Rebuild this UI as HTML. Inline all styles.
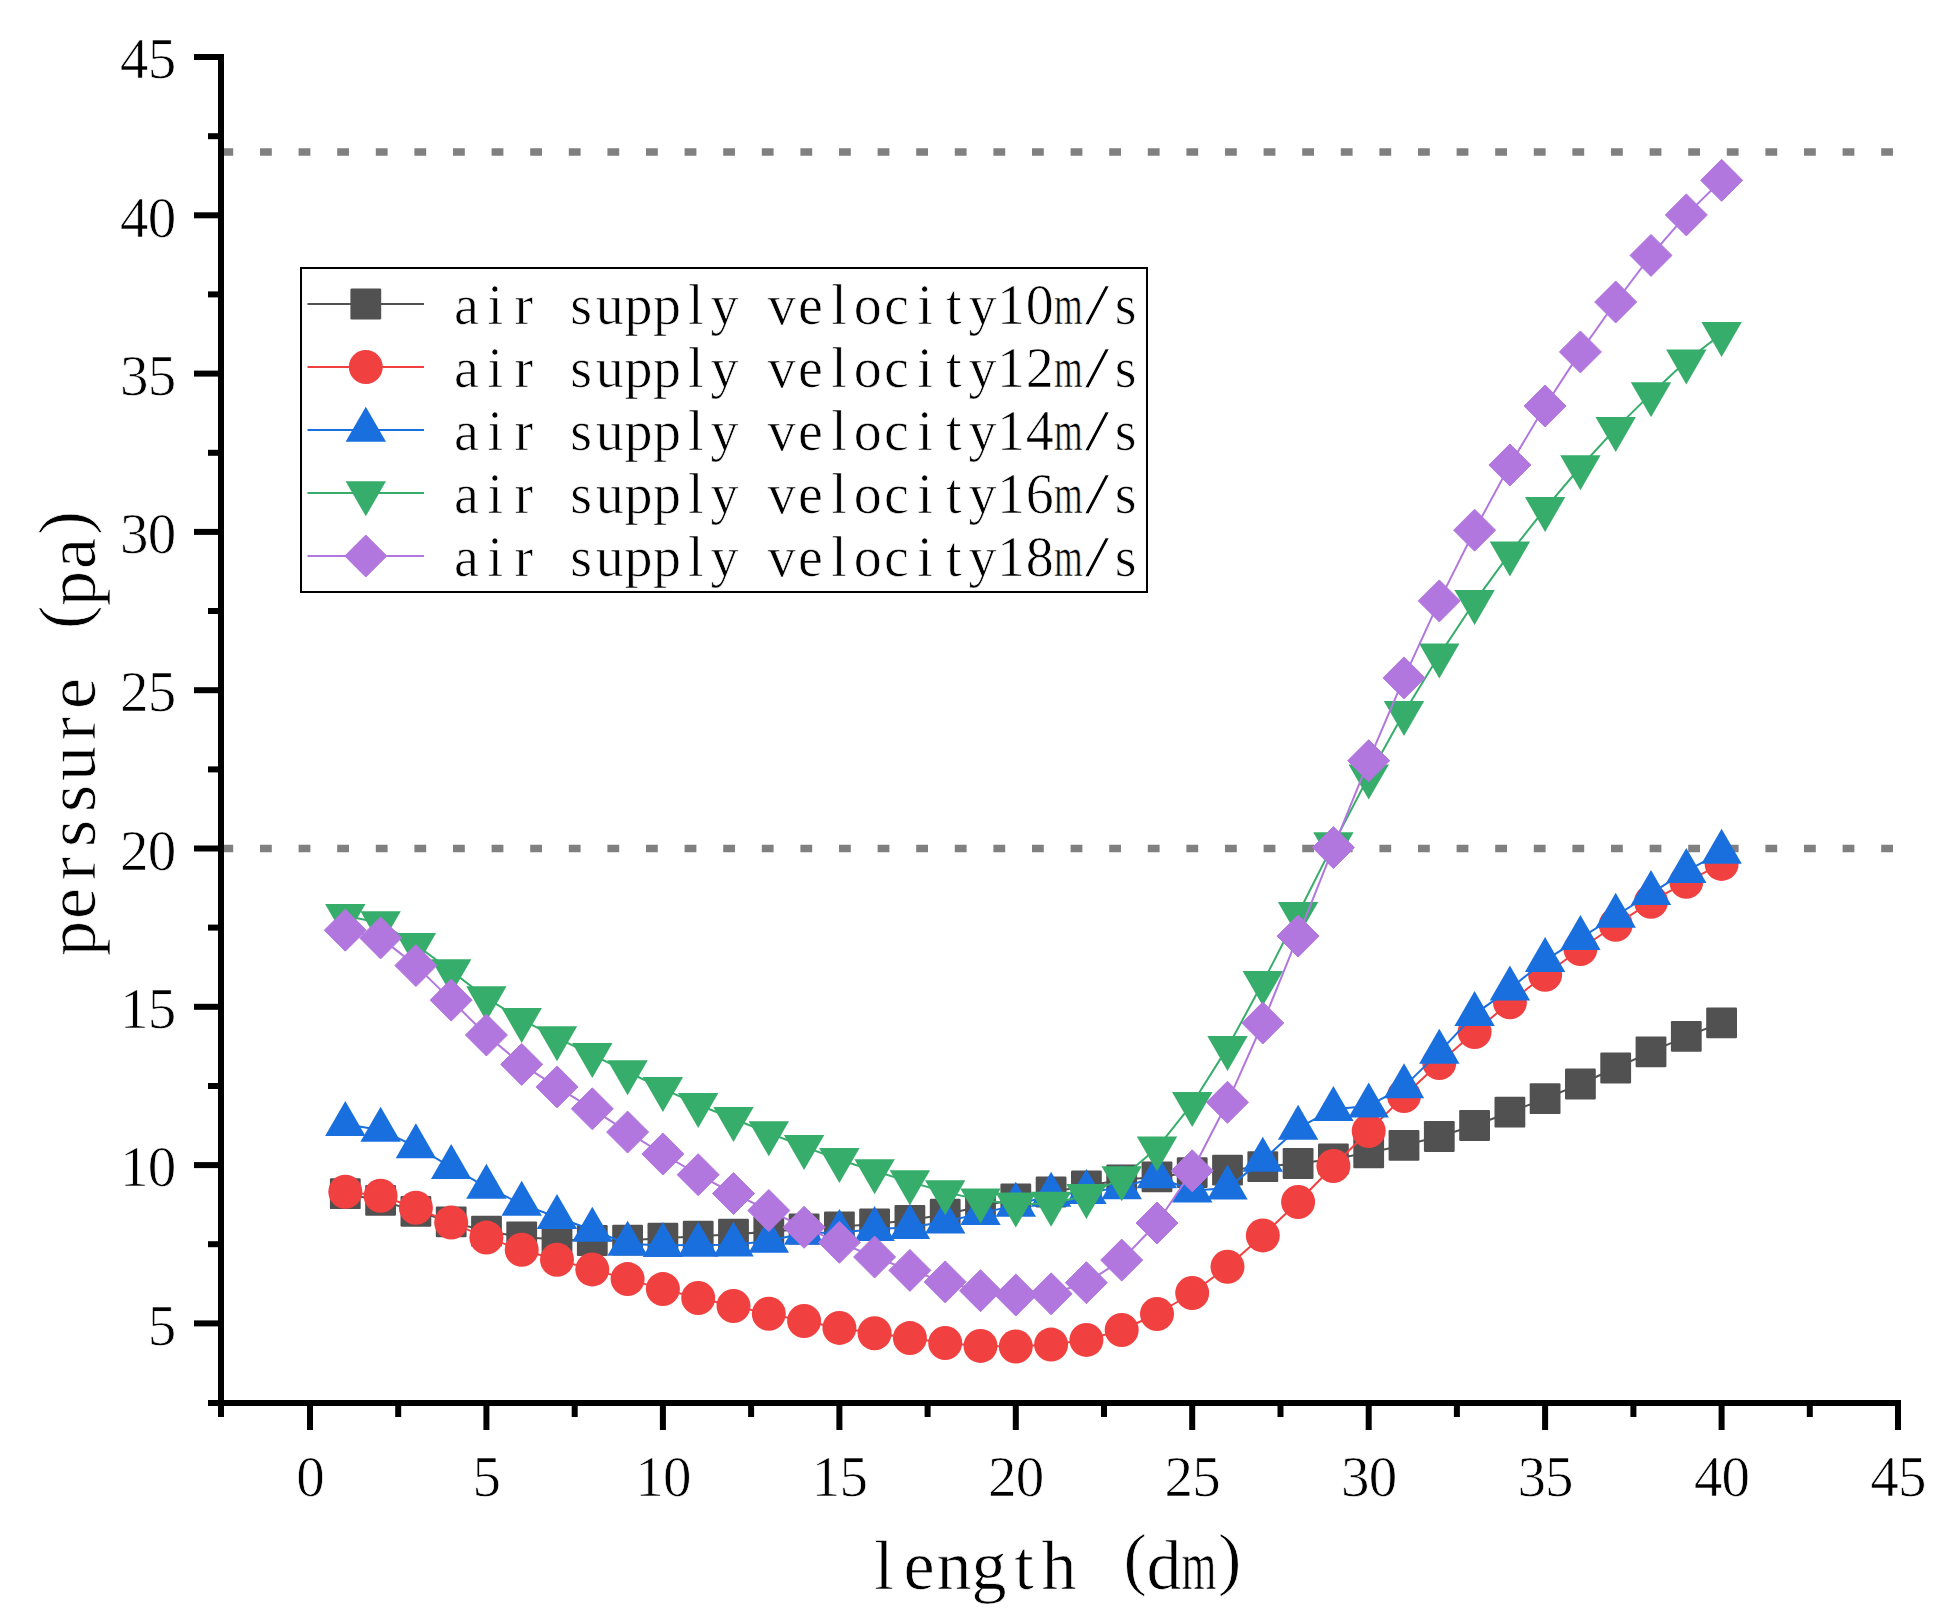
<!DOCTYPE html>
<html lang="en"><head><meta charset="utf-8"><title>pressure vs length</title>
<style>
html,body{margin:0;padding:0;background:#fff;}
body{width:1960px;height:1624px;overflow:hidden;}
svg{display:block;}
text{font-family:"Liberation Serif","Noto Serif CJK SC",serif;fill:#000;stroke:#fff;stroke-width:0.7px;paint-order:fill stroke;}
</style></head><body>
<svg width="1960" height="1624" viewBox="0 0 1960 1624">
<rect width="1960" height="1624" fill="#fff"/>
<line x1="221.4" y1="152" x2="1899" y2="152" stroke="#808080" stroke-width="7.6" stroke-dasharray="11.8 26.8"/>
<line x1="221.4" y1="848.5" x2="1899" y2="848.5" stroke="#808080" stroke-width="7.6" stroke-dasharray="11.8 26.8"/>
<polyline points="345.3,1193.7 380.6,1200.4 415.9,1211.3 451.2,1221.9 486.4,1231.2 521.7,1236.9 557,1239.5 592.3,1240.5 627.6,1240.2 662.9,1238.2 698.2,1236.2 733.5,1234.2 768.8,1231.8 804.1,1229 839.4,1226.8 874.6,1224 909.9,1220.3 945.2,1214.2 980.5,1206.5 1015.8,1199 1051.1,1192 1086.4,1186 1121.7,1179.8 1157,1176.9 1192.2,1172.6 1227.5,1170.1 1262.8,1166.7 1298.1,1163.5 1333.4,1159 1368.7,1152.8 1404,1145.3 1439.3,1136.5 1474.6,1125.5 1509.9,1112.2 1545.1,1098.7 1580.4,1084 1615.7,1068 1651,1051.8 1686.3,1036.4 1721.6,1022.8" fill="none" stroke="#515151" stroke-width="2" stroke-linejoin="round"/>
<g><rect x="329.9" y="1178.3" width="30.8" height="30.8" rx="1.2" fill="#515151"/><rect x="365.2" y="1185" width="30.8" height="30.8" rx="1.2" fill="#515151"/><rect x="400.5" y="1195.9" width="30.8" height="30.8" rx="1.2" fill="#515151"/><rect x="435.8" y="1206.5" width="30.8" height="30.8" rx="1.2" fill="#515151"/><rect x="471.1" y="1215.8" width="30.8" height="30.8" rx="1.2" fill="#515151"/><rect x="506.3" y="1221.5" width="30.8" height="30.8" rx="1.2" fill="#515151"/><rect x="541.6" y="1224.1" width="30.8" height="30.8" rx="1.2" fill="#515151"/><rect x="576.9" y="1225.1" width="30.8" height="30.8" rx="1.2" fill="#515151"/><rect x="612.2" y="1224.8" width="30.8" height="30.8" rx="1.2" fill="#515151"/><rect x="647.5" y="1222.8" width="30.8" height="30.8" rx="1.2" fill="#515151"/><rect x="682.8" y="1220.8" width="30.8" height="30.8" rx="1.2" fill="#515151"/><rect x="718.1" y="1218.8" width="30.8" height="30.8" rx="1.2" fill="#515151"/><rect x="753.4" y="1216.4" width="30.8" height="30.8" rx="1.2" fill="#515151"/><rect x="788.7" y="1213.6" width="30.8" height="30.8" rx="1.2" fill="#515151"/><rect x="824" y="1211.4" width="30.8" height="30.8" rx="1.2" fill="#515151"/><rect x="859.2" y="1208.6" width="30.8" height="30.8" rx="1.2" fill="#515151"/><rect x="894.5" y="1204.9" width="30.8" height="30.8" rx="1.2" fill="#515151"/><rect x="929.8" y="1198.8" width="30.8" height="30.8" rx="1.2" fill="#515151"/><rect x="965.1" y="1191.1" width="30.8" height="30.8" rx="1.2" fill="#515151"/><rect x="1000.4" y="1183.6" width="30.8" height="30.8" rx="1.2" fill="#515151"/><rect x="1035.7" y="1176.6" width="30.8" height="30.8" rx="1.2" fill="#515151"/><rect x="1071" y="1170.6" width="30.8" height="30.8" rx="1.2" fill="#515151"/><rect x="1106.3" y="1164.4" width="30.8" height="30.8" rx="1.2" fill="#515151"/><rect x="1141.6" y="1161.5" width="30.8" height="30.8" rx="1.2" fill="#515151"/><rect x="1176.8" y="1157.2" width="30.8" height="30.8" rx="1.2" fill="#515151"/><rect x="1212.1" y="1154.7" width="30.8" height="30.8" rx="1.2" fill="#515151"/><rect x="1247.4" y="1151.3" width="30.8" height="30.8" rx="1.2" fill="#515151"/><rect x="1282.7" y="1148.1" width="30.8" height="30.8" rx="1.2" fill="#515151"/><rect x="1318" y="1143.6" width="30.8" height="30.8" rx="1.2" fill="#515151"/><rect x="1353.3" y="1137.4" width="30.8" height="30.8" rx="1.2" fill="#515151"/><rect x="1388.6" y="1129.9" width="30.8" height="30.8" rx="1.2" fill="#515151"/><rect x="1423.9" y="1121.1" width="30.8" height="30.8" rx="1.2" fill="#515151"/><rect x="1459.2" y="1110.1" width="30.8" height="30.8" rx="1.2" fill="#515151"/><rect x="1494.5" y="1096.8" width="30.8" height="30.8" rx="1.2" fill="#515151"/><rect x="1529.7" y="1083.3" width="30.8" height="30.8" rx="1.2" fill="#515151"/><rect x="1565" y="1068.6" width="30.8" height="30.8" rx="1.2" fill="#515151"/><rect x="1600.3" y="1052.6" width="30.8" height="30.8" rx="1.2" fill="#515151"/><rect x="1635.6" y="1036.4" width="30.8" height="30.8" rx="1.2" fill="#515151"/><rect x="1670.9" y="1021" width="30.8" height="30.8" rx="1.2" fill="#515151"/><rect x="1706.2" y="1007.4" width="30.8" height="30.8" rx="1.2" fill="#515151"/></g>
<polyline points="345.3,1191.8 380.6,1195.8 415.9,1207.8 451.2,1222.6 486.4,1237.6 521.7,1249.7 557,1259.8 592.3,1269.4 627.6,1279.1 662.9,1289.1 698.2,1298 733.5,1306 768.8,1313.8 804.1,1321 839.4,1327.9 874.6,1333.2 909.9,1338.1 945.2,1343 980.5,1345.9 1015.8,1346.5 1051.1,1344.6 1086.4,1339.9 1121.7,1330 1157,1314 1192.2,1293 1227.5,1266.7 1262.8,1235.4 1298.1,1202 1333.4,1166 1368.7,1131 1404,1096.1 1439.3,1063 1474.6,1032 1509.9,1002.2 1545.1,974.8 1580.4,949 1615.7,924.8 1651,901.8 1686.3,881.8 1721.6,863.9" fill="none" stroke="#F14040" stroke-width="2" stroke-linejoin="round"/>
<g><circle cx="345.3" cy="1191.8" r="17" fill="#F14040"/><circle cx="380.6" cy="1195.8" r="17" fill="#F14040"/><circle cx="415.9" cy="1207.8" r="17" fill="#F14040"/><circle cx="451.2" cy="1222.6" r="17" fill="#F14040"/><circle cx="486.4" cy="1237.6" r="17" fill="#F14040"/><circle cx="521.7" cy="1249.7" r="17" fill="#F14040"/><circle cx="557" cy="1259.8" r="17" fill="#F14040"/><circle cx="592.3" cy="1269.4" r="17" fill="#F14040"/><circle cx="627.6" cy="1279.1" r="17" fill="#F14040"/><circle cx="662.9" cy="1289.1" r="17" fill="#F14040"/><circle cx="698.2" cy="1298" r="17" fill="#F14040"/><circle cx="733.5" cy="1306" r="17" fill="#F14040"/><circle cx="768.8" cy="1313.8" r="17" fill="#F14040"/><circle cx="804.1" cy="1321" r="17" fill="#F14040"/><circle cx="839.4" cy="1327.9" r="17" fill="#F14040"/><circle cx="874.6" cy="1333.2" r="17" fill="#F14040"/><circle cx="909.9" cy="1338.1" r="17" fill="#F14040"/><circle cx="945.2" cy="1343" r="17" fill="#F14040"/><circle cx="980.5" cy="1345.9" r="17" fill="#F14040"/><circle cx="1015.8" cy="1346.5" r="17" fill="#F14040"/><circle cx="1051.1" cy="1344.6" r="17" fill="#F14040"/><circle cx="1086.4" cy="1339.9" r="17" fill="#F14040"/><circle cx="1121.7" cy="1330" r="17" fill="#F14040"/><circle cx="1157" cy="1314" r="17" fill="#F14040"/><circle cx="1192.2" cy="1293" r="17" fill="#F14040"/><circle cx="1227.5" cy="1266.7" r="17" fill="#F14040"/><circle cx="1262.8" cy="1235.4" r="17" fill="#F14040"/><circle cx="1298.1" cy="1202" r="17" fill="#F14040"/><circle cx="1333.4" cy="1166" r="17" fill="#F14040"/><circle cx="1368.7" cy="1131" r="17" fill="#F14040"/><circle cx="1404" cy="1096.1" r="17" fill="#F14040"/><circle cx="1439.3" cy="1063" r="17" fill="#F14040"/><circle cx="1474.6" cy="1032" r="17" fill="#F14040"/><circle cx="1509.9" cy="1002.2" r="17" fill="#F14040"/><circle cx="1545.1" cy="974.8" r="17" fill="#F14040"/><circle cx="1580.4" cy="949" r="17" fill="#F14040"/><circle cx="1615.7" cy="924.8" r="17" fill="#F14040"/><circle cx="1651" cy="901.8" r="17" fill="#F14040"/><circle cx="1686.3" cy="881.8" r="17" fill="#F14040"/><circle cx="1721.6" cy="863.9" r="17" fill="#F14040"/></g>
<polyline points="345.3,1124.2 380.6,1130.1 415.9,1146.5 451.2,1167.2 486.4,1187.1 521.7,1204.1 557,1217.2 592.3,1230 627.6,1244 662.9,1245.2 698.2,1245 733.5,1244.7 768.8,1241 804.1,1233 839.4,1232.4 874.6,1229.3 909.9,1227.3 945.2,1221.7 980.5,1213.4 1015.8,1205.1 1051.1,1195 1086.4,1192.3 1121.7,1187.6 1157,1176.5 1192.2,1190.8 1227.5,1187.9 1262.8,1160.1 1298.1,1128.1 1333.4,1109.2 1368.7,1105.9 1404,1086.6 1439.3,1052.1 1474.6,1014.4 1509.9,988.9 1545.1,960.3 1580.4,938.2 1615.7,916 1651,893.3 1686.3,871.2 1721.6,852.1" fill="none" stroke="#1A6FDF" stroke-width="2" stroke-linejoin="round"/>
<g><polygon points="325.1,1135.9 365.5,1135.9 345.3,1100.9" fill="#1A6FDF"/><polygon points="360.4,1141.8 400.8,1141.8 380.6,1106.8" fill="#1A6FDF"/><polygon points="395.7,1158.2 436.1,1158.2 415.9,1123.2" fill="#1A6FDF"/><polygon points="431,1178.9 471.4,1178.9 451.2,1143.9" fill="#1A6FDF"/><polygon points="466.2,1198.8 506.6,1198.8 486.4,1163.8" fill="#1A6FDF"/><polygon points="501.5,1215.8 541.9,1215.8 521.7,1180.8" fill="#1A6FDF"/><polygon points="536.8,1228.9 577.2,1228.9 557,1193.9" fill="#1A6FDF"/><polygon points="572.1,1241.7 612.5,1241.7 592.3,1206.7" fill="#1A6FDF"/><polygon points="607.4,1255.7 647.8,1255.7 627.6,1220.7" fill="#1A6FDF"/><polygon points="642.7,1256.9 683.1,1256.9 662.9,1221.9" fill="#1A6FDF"/><polygon points="678,1256.7 718.4,1256.7 698.2,1221.7" fill="#1A6FDF"/><polygon points="713.3,1256.4 753.7,1256.4 733.5,1221.4" fill="#1A6FDF"/><polygon points="748.6,1252.7 789,1252.7 768.8,1217.7" fill="#1A6FDF"/><polygon points="783.9,1244.7 824.3,1244.7 804.1,1209.7" fill="#1A6FDF"/><polygon points="819.1,1244.1 859.6,1244.1 839.4,1209.1" fill="#1A6FDF"/><polygon points="854.4,1241 894.8,1241 874.6,1206" fill="#1A6FDF"/><polygon points="889.7,1239 930.1,1239 909.9,1204" fill="#1A6FDF"/><polygon points="925,1233.4 965.4,1233.4 945.2,1198.4" fill="#1A6FDF"/><polygon points="960.3,1225.1 1000.7,1225.1 980.5,1190.1" fill="#1A6FDF"/><polygon points="995.6,1216.8 1036,1216.8 1015.8,1181.8" fill="#1A6FDF"/><polygon points="1030.9,1206.7 1071.3,1206.7 1051.1,1171.7" fill="#1A6FDF"/><polygon points="1066.2,1204 1106.6,1204 1086.4,1169" fill="#1A6FDF"/><polygon points="1101.5,1199.3 1141.9,1199.3 1121.7,1164.3" fill="#1A6FDF"/><polygon points="1136.8,1188.2 1177.2,1188.2 1157,1153.2" fill="#1A6FDF"/><polygon points="1172,1202.5 1212.5,1202.5 1192.2,1167.5" fill="#1A6FDF"/><polygon points="1207.3,1199.6 1247.7,1199.6 1227.5,1164.6" fill="#1A6FDF"/><polygon points="1242.6,1171.8 1283,1171.8 1262.8,1136.8" fill="#1A6FDF"/><polygon points="1277.9,1139.8 1318.3,1139.8 1298.1,1104.8" fill="#1A6FDF"/><polygon points="1313.2,1120.9 1353.6,1120.9 1333.4,1085.9" fill="#1A6FDF"/><polygon points="1348.5,1117.6 1388.9,1117.6 1368.7,1082.6" fill="#1A6FDF"/><polygon points="1383.8,1098.3 1424.2,1098.3 1404,1063.3" fill="#1A6FDF"/><polygon points="1419.1,1063.8 1459.5,1063.8 1439.3,1028.8" fill="#1A6FDF"/><polygon points="1454.4,1026.1 1494.8,1026.1 1474.6,991.1" fill="#1A6FDF"/><polygon points="1489.7,1000.6 1530.1,1000.6 1509.9,965.6" fill="#1A6FDF"/><polygon points="1524.9,972 1565.3,972 1545.1,937" fill="#1A6FDF"/><polygon points="1560.2,949.9 1600.6,949.9 1580.4,914.9" fill="#1A6FDF"/><polygon points="1595.5,927.7 1635.9,927.7 1615.7,892.7" fill="#1A6FDF"/><polygon points="1630.8,905 1671.2,905 1651,870" fill="#1A6FDF"/><polygon points="1666.1,882.9 1706.5,882.9 1686.3,847.9" fill="#1A6FDF"/><polygon points="1701.4,863.8 1741.8,863.8 1721.6,828.8" fill="#1A6FDF"/></g>
<polyline points="345.3,915.7 380.6,922.9 415.9,944.8 451.2,970.9 486.4,998 521.7,1019.7 557,1037.9 592.3,1054.8 627.6,1072 662.9,1088.7 698.2,1104.8 733.5,1118.8 768.8,1133 804.1,1146.6 839.4,1159.8 874.6,1171 909.9,1181.9 945.2,1192 980.5,1200.1 1015.8,1204.2 1051.1,1203.5 1086.4,1195.8 1121.7,1177.9 1157,1148.1 1192.2,1103.8 1227.5,1047.6 1262.8,982.6 1298.1,913.8 1333.4,843.9 1368.7,776.3 1404,712.8 1439.3,655.1 1474.6,601.8 1509.9,553.1 1545.1,508.7 1580.4,467 1615.7,428.6 1651,393.9 1686.3,361.1 1721.6,333.7" fill="none" stroke="#37AD6B" stroke-width="2" stroke-linejoin="round"/>
<g><polygon points="325.1,904 365.5,904 345.3,939" fill="#37AD6B"/><polygon points="360.4,911.2 400.8,911.2 380.6,946.2" fill="#37AD6B"/><polygon points="395.7,933.1 436.1,933.1 415.9,968.1" fill="#37AD6B"/><polygon points="431,959.2 471.4,959.2 451.2,994.2" fill="#37AD6B"/><polygon points="466.2,986.3 506.6,986.3 486.4,1021.3" fill="#37AD6B"/><polygon points="501.5,1008 541.9,1008 521.7,1043" fill="#37AD6B"/><polygon points="536.8,1026.2 577.2,1026.2 557,1061.2" fill="#37AD6B"/><polygon points="572.1,1043.1 612.5,1043.1 592.3,1078.1" fill="#37AD6B"/><polygon points="607.4,1060.3 647.8,1060.3 627.6,1095.3" fill="#37AD6B"/><polygon points="642.7,1077 683.1,1077 662.9,1112" fill="#37AD6B"/><polygon points="678,1093.1 718.4,1093.1 698.2,1128.1" fill="#37AD6B"/><polygon points="713.3,1107.1 753.7,1107.1 733.5,1142.1" fill="#37AD6B"/><polygon points="748.6,1121.3 789,1121.3 768.8,1156.3" fill="#37AD6B"/><polygon points="783.9,1134.9 824.3,1134.9 804.1,1169.9" fill="#37AD6B"/><polygon points="819.1,1148.1 859.6,1148.1 839.4,1183.1" fill="#37AD6B"/><polygon points="854.4,1159.3 894.8,1159.3 874.6,1194.3" fill="#37AD6B"/><polygon points="889.7,1170.2 930.1,1170.2 909.9,1205.2" fill="#37AD6B"/><polygon points="925,1180.3 965.4,1180.3 945.2,1215.3" fill="#37AD6B"/><polygon points="960.3,1188.4 1000.7,1188.4 980.5,1223.4" fill="#37AD6B"/><polygon points="995.6,1192.5 1036,1192.5 1015.8,1227.5" fill="#37AD6B"/><polygon points="1030.9,1191.8 1071.3,1191.8 1051.1,1226.8" fill="#37AD6B"/><polygon points="1066.2,1184.1 1106.6,1184.1 1086.4,1219.1" fill="#37AD6B"/><polygon points="1101.5,1166.2 1141.9,1166.2 1121.7,1201.2" fill="#37AD6B"/><polygon points="1136.8,1136.4 1177.2,1136.4 1157,1171.4" fill="#37AD6B"/><polygon points="1172,1092.1 1212.5,1092.1 1192.2,1127.1" fill="#37AD6B"/><polygon points="1207.3,1035.9 1247.7,1035.9 1227.5,1070.9" fill="#37AD6B"/><polygon points="1242.6,970.9 1283,970.9 1262.8,1005.9" fill="#37AD6B"/><polygon points="1277.9,902.1 1318.3,902.1 1298.1,937.1" fill="#37AD6B"/><polygon points="1313.2,832.2 1353.6,832.2 1333.4,867.2" fill="#37AD6B"/><polygon points="1348.5,764.6 1388.9,764.6 1368.7,799.6" fill="#37AD6B"/><polygon points="1383.8,701.1 1424.2,701.1 1404,736.1" fill="#37AD6B"/><polygon points="1419.1,643.4 1459.5,643.4 1439.3,678.4" fill="#37AD6B"/><polygon points="1454.4,590.1 1494.8,590.1 1474.6,625.1" fill="#37AD6B"/><polygon points="1489.7,541.4 1530.1,541.4 1509.9,576.4" fill="#37AD6B"/><polygon points="1524.9,497 1565.3,497 1545.1,532" fill="#37AD6B"/><polygon points="1560.2,455.3 1600.6,455.3 1580.4,490.3" fill="#37AD6B"/><polygon points="1595.5,416.9 1635.9,416.9 1615.7,451.9" fill="#37AD6B"/><polygon points="1630.8,382.2 1671.2,382.2 1651,417.2" fill="#37AD6B"/><polygon points="1666.1,349.4 1706.5,349.4 1686.3,384.4" fill="#37AD6B"/><polygon points="1701.4,322 1741.8,322 1721.6,357" fill="#37AD6B"/></g>
<polyline points="345.3,930.2 380.6,937.9 415.9,965.6 451.2,1000.1 486.4,1035 521.7,1064.4 557,1086.9 592.3,1108.8 627.6,1132.1 662.9,1154 698.2,1174.7 733.5,1193.5 768.8,1210.5 804.1,1227.3 839.4,1242.3 874.6,1257 909.9,1270.4 945.2,1281.9 980.5,1290.7 1015.8,1295 1051.1,1293.8 1086.4,1282.7 1121.7,1260.1 1157,1223 1192.2,1170.8 1227.5,1102.3 1262.8,1023 1298.1,936.1 1333.4,847.6 1368.7,760.7 1404,677.9 1439.3,600.9 1474.6,530.2 1509.9,465 1545.1,406 1580.4,351.9 1615.7,302 1651,255.4 1686.3,214.9 1721.6,180.3" fill="none" stroke="#B177DE" stroke-width="2" stroke-linejoin="round"/>
<g><polygon points="324.3,930.2 345.3,909.2 366.3,930.2 345.3,951.2" fill="#B177DE" stroke="#B177DE" stroke-width="1" stroke-linejoin="round"/><polygon points="359.6,937.9 380.6,916.9 401.6,937.9 380.6,958.9" fill="#B177DE" stroke="#B177DE" stroke-width="1" stroke-linejoin="round"/><polygon points="394.9,965.6 415.9,944.6 436.9,965.6 415.9,986.6" fill="#B177DE" stroke="#B177DE" stroke-width="1" stroke-linejoin="round"/><polygon points="430.2,1000.1 451.2,979.1 472.2,1000.1 451.2,1021.1" fill="#B177DE" stroke="#B177DE" stroke-width="1" stroke-linejoin="round"/><polygon points="465.4,1035 486.4,1014 507.4,1035 486.4,1056" fill="#B177DE" stroke="#B177DE" stroke-width="1" stroke-linejoin="round"/><polygon points="500.7,1064.4 521.7,1043.4 542.7,1064.4 521.7,1085.4" fill="#B177DE" stroke="#B177DE" stroke-width="1" stroke-linejoin="round"/><polygon points="536,1086.9 557,1065.9 578,1086.9 557,1107.9" fill="#B177DE" stroke="#B177DE" stroke-width="1" stroke-linejoin="round"/><polygon points="571.3,1108.8 592.3,1087.8 613.3,1108.8 592.3,1129.8" fill="#B177DE" stroke="#B177DE" stroke-width="1" stroke-linejoin="round"/><polygon points="606.6,1132.1 627.6,1111.1 648.6,1132.1 627.6,1153.1" fill="#B177DE" stroke="#B177DE" stroke-width="1" stroke-linejoin="round"/><polygon points="641.9,1154 662.9,1133 683.9,1154 662.9,1175" fill="#B177DE" stroke="#B177DE" stroke-width="1" stroke-linejoin="round"/><polygon points="677.2,1174.7 698.2,1153.7 719.2,1174.7 698.2,1195.7" fill="#B177DE" stroke="#B177DE" stroke-width="1" stroke-linejoin="round"/><polygon points="712.5,1193.5 733.5,1172.5 754.5,1193.5 733.5,1214.5" fill="#B177DE" stroke="#B177DE" stroke-width="1" stroke-linejoin="round"/><polygon points="747.8,1210.5 768.8,1189.5 789.8,1210.5 768.8,1231.5" fill="#B177DE" stroke="#B177DE" stroke-width="1" stroke-linejoin="round"/><polygon points="783.1,1227.3 804.1,1206.3 825.1,1227.3 804.1,1248.3" fill="#B177DE" stroke="#B177DE" stroke-width="1" stroke-linejoin="round"/><polygon points="818.4,1242.3 839.4,1221.3 860.4,1242.3 839.4,1263.3" fill="#B177DE" stroke="#B177DE" stroke-width="1" stroke-linejoin="round"/><polygon points="853.6,1257 874.6,1236 895.6,1257 874.6,1278" fill="#B177DE" stroke="#B177DE" stroke-width="1" stroke-linejoin="round"/><polygon points="888.9,1270.4 909.9,1249.4 930.9,1270.4 909.9,1291.4" fill="#B177DE" stroke="#B177DE" stroke-width="1" stroke-linejoin="round"/><polygon points="924.2,1281.9 945.2,1260.9 966.2,1281.9 945.2,1302.9" fill="#B177DE" stroke="#B177DE" stroke-width="1" stroke-linejoin="round"/><polygon points="959.5,1290.7 980.5,1269.7 1001.5,1290.7 980.5,1311.7" fill="#B177DE" stroke="#B177DE" stroke-width="1" stroke-linejoin="round"/><polygon points="994.8,1295 1015.8,1274 1036.8,1295 1015.8,1316" fill="#B177DE" stroke="#B177DE" stroke-width="1" stroke-linejoin="round"/><polygon points="1030.1,1293.8 1051.1,1272.8 1072.1,1293.8 1051.1,1314.8" fill="#B177DE" stroke="#B177DE" stroke-width="1" stroke-linejoin="round"/><polygon points="1065.4,1282.7 1086.4,1261.7 1107.4,1282.7 1086.4,1303.7" fill="#B177DE" stroke="#B177DE" stroke-width="1" stroke-linejoin="round"/><polygon points="1100.7,1260.1 1121.7,1239.1 1142.7,1260.1 1121.7,1281.1" fill="#B177DE" stroke="#B177DE" stroke-width="1" stroke-linejoin="round"/><polygon points="1136,1223 1157,1202 1178,1223 1157,1244" fill="#B177DE" stroke="#B177DE" stroke-width="1" stroke-linejoin="round"/><polygon points="1171.2,1170.8 1192.2,1149.8 1213.2,1170.8 1192.2,1191.8" fill="#B177DE" stroke="#B177DE" stroke-width="1" stroke-linejoin="round"/><polygon points="1206.5,1102.3 1227.5,1081.3 1248.5,1102.3 1227.5,1123.3" fill="#B177DE" stroke="#B177DE" stroke-width="1" stroke-linejoin="round"/><polygon points="1241.8,1023 1262.8,1002 1283.8,1023 1262.8,1044" fill="#B177DE" stroke="#B177DE" stroke-width="1" stroke-linejoin="round"/><polygon points="1277.1,936.1 1298.1,915.1 1319.1,936.1 1298.1,957.1" fill="#B177DE" stroke="#B177DE" stroke-width="1" stroke-linejoin="round"/><polygon points="1312.4,847.6 1333.4,826.6 1354.4,847.6 1333.4,868.6" fill="#B177DE" stroke="#B177DE" stroke-width="1" stroke-linejoin="round"/><polygon points="1347.7,760.7 1368.7,739.7 1389.7,760.7 1368.7,781.7" fill="#B177DE" stroke="#B177DE" stroke-width="1" stroke-linejoin="round"/><polygon points="1383,677.9 1404,656.9 1425,677.9 1404,698.9" fill="#B177DE" stroke="#B177DE" stroke-width="1" stroke-linejoin="round"/><polygon points="1418.3,600.9 1439.3,579.9 1460.3,600.9 1439.3,621.9" fill="#B177DE" stroke="#B177DE" stroke-width="1" stroke-linejoin="round"/><polygon points="1453.6,530.2 1474.6,509.2 1495.6,530.2 1474.6,551.2" fill="#B177DE" stroke="#B177DE" stroke-width="1" stroke-linejoin="round"/><polygon points="1488.9,465 1509.9,444 1530.9,465 1509.9,486" fill="#B177DE" stroke="#B177DE" stroke-width="1" stroke-linejoin="round"/><polygon points="1524.1,406 1545.1,385 1566.1,406 1545.1,427" fill="#B177DE" stroke="#B177DE" stroke-width="1" stroke-linejoin="round"/><polygon points="1559.4,351.9 1580.4,330.9 1601.4,351.9 1580.4,372.9" fill="#B177DE" stroke="#B177DE" stroke-width="1" stroke-linejoin="round"/><polygon points="1594.7,302 1615.7,281 1636.7,302 1615.7,323" fill="#B177DE" stroke="#B177DE" stroke-width="1" stroke-linejoin="round"/><polygon points="1630,255.4 1651,234.4 1672,255.4 1651,276.4" fill="#B177DE" stroke="#B177DE" stroke-width="1" stroke-linejoin="round"/><polygon points="1665.3,214.9 1686.3,193.9 1707.3,214.9 1686.3,235.9" fill="#B177DE" stroke="#B177DE" stroke-width="1" stroke-linejoin="round"/><polygon points="1700.6,180.3 1721.6,159.3 1742.6,180.3 1721.6,201.3" fill="#B177DE" stroke="#B177DE" stroke-width="1" stroke-linejoin="round"/></g>
<g fill="#000"><rect x="218" y="54" width="6" height="1363"/><rect x="208" y="1400" width="1693" height="6"/><rect x="194" y="1320.4" width="25" height="6"/><rect x="194" y="1162.1" width="25" height="6"/><rect x="194" y="1003.8" width="25" height="6"/><rect x="194" y="845.5" width="25" height="6"/><rect x="194" y="687.2" width="25" height="6"/><rect x="194" y="528.9" width="25" height="6"/><rect x="194" y="370.6" width="25" height="6"/><rect x="194" y="212.3" width="25" height="6"/><rect x="194" y="54" width="25" height="6"/><rect x="208" y="1241.2" width="11" height="6"/><rect x="208" y="1083" width="11" height="6"/><rect x="208" y="924.6" width="11" height="6"/><rect x="208" y="766.4" width="11" height="6"/><rect x="208" y="608" width="11" height="6"/><rect x="208" y="449.8" width="11" height="6"/><rect x="208" y="291.4" width="11" height="6"/><rect x="208" y="133.2" width="11" height="6"/><rect x="307" y="1405" width="6" height="25"/><rect x="483.4" y="1405" width="6" height="25"/><rect x="659.9" y="1405" width="6" height="25"/><rect x="836.4" y="1405" width="6" height="25"/><rect x="1012.8" y="1405" width="6" height="25"/><rect x="1189.2" y="1405" width="6" height="25"/><rect x="1365.7" y="1405" width="6" height="25"/><rect x="1542.1" y="1405" width="6" height="25"/><rect x="1718.6" y="1405" width="6" height="25"/><rect x="1895" y="1405" width="6" height="25"/><rect x="395.2" y="1405" width="6" height="12"/><rect x="571.7" y="1405" width="6" height="12"/><rect x="748.1" y="1405" width="6" height="12"/><rect x="924.6" y="1405" width="6" height="12"/><rect x="1101" y="1405" width="6" height="12"/><rect x="1277.5" y="1405" width="6" height="12"/><rect x="1453.9" y="1405" width="6" height="12"/><rect x="1630.4" y="1405" width="6" height="12"/><rect x="1806.8" y="1405" width="6" height="12"/></g>
<g font-size="57" letter-spacing="-0.8"><text x="175.4" y="1344.6" text-anchor="end">5</text><text x="175.4" y="1186.3" text-anchor="end">10</text><text x="175.4" y="1028" text-anchor="end">15</text><text x="175.4" y="869.7" text-anchor="end">20</text><text x="175.4" y="711.4" text-anchor="end">25</text><text x="175.4" y="553.1" text-anchor="end">30</text><text x="175.4" y="394.8" text-anchor="end">35</text><text x="175.4" y="236.5" text-anchor="end">40</text><text x="175.4" y="78.2" text-anchor="end">45</text><text x="310" y="1495.7" text-anchor="middle">0</text><text x="486.4" y="1495.7" text-anchor="middle">5</text><text x="662.9" y="1495.7" text-anchor="middle">10</text><text x="839.4" y="1495.7" text-anchor="middle">15</text><text x="1015.8" y="1495.7" text-anchor="middle">20</text><text x="1192.2" y="1495.7" text-anchor="middle">25</text><text x="1368.7" y="1495.7" text-anchor="middle">30</text><text x="1545.1" y="1495.7" text-anchor="middle">35</text><text x="1721.6" y="1495.7" text-anchor="middle">40</text><text x="1898" y="1495.7" text-anchor="middle">45</text></g>
<text x="874.3 903.5 936.5 971.5 1014.3 1041.5 1085.2 1123.6 1146.5 1181.5 1218.1" y="1589.3 1589.3 1589.3 1589.3 1589.3 1589.3 1589.3 1581.6 1589.3 1589.3 1581.6" font-size="70" xml:space="preserve">length (d<tspan textLength="35" lengthAdjust="spacingAndGlyphs">m</tspan>)</text>
<g transform="translate(95 956) rotate(-90)"><text x="0 37 75.8 108.9 143.9 175 215.8 247 288.8 327.1 350 387 421.6" y="0 0 0 0 0 0 0 0 0 -7.7 0 0 -7.7" font-size="70" xml:space="preserve">perssure (pa)</text></g>
<rect x="301" y="268" width="846" height="324" fill="#fff" stroke="#000" stroke-width="2"/>
<line x1="307.5" y1="304" x2="424" y2="304" stroke="#515151" stroke-width="2"/><rect x="350.4" y="288.6" width="30.8" height="30.8" rx="1.2" fill="#515151"/>
<text x="454.1 487.4 514.5 545.5 570.3 595.8 624.5 653.1 688 710.5 746.1 767.8 798 831.3 853.8 884 917.3 946 968.4 997.1 1025.7 1054.1 1084.7 1114.8" y="323.8" font-size="56" xml:space="preserve">air supply velocity10<tspan textLength="28.7" lengthAdjust="spacingAndGlyphs">m</tspan><tspan textLength="24.6" lengthAdjust="spacingAndGlyphs">/</tspan>s</text>
<line x1="307.5" y1="367" x2="424" y2="367" stroke="#F14040" stroke-width="2"/><circle cx="365.8" cy="367" r="17" fill="#F14040"/>
<text x="454.1 487.4 514.5 545.5 570.3 595.8 624.5 653.1 688 710.5 746.1 767.8 798 831.3 853.8 884 917.3 946 968.4 997.1 1025.7 1054.1 1084.7 1114.8" y="386.8" font-size="56" xml:space="preserve">air supply velocity12<tspan textLength="28.7" lengthAdjust="spacingAndGlyphs">m</tspan><tspan textLength="24.6" lengthAdjust="spacingAndGlyphs">/</tspan>s</text>
<line x1="307.5" y1="430" x2="424" y2="430" stroke="#1A6FDF" stroke-width="2"/><polygon points="345.6,441.7 386,441.7 365.8,406.7" fill="#1A6FDF"/>
<text x="454.1 487.4 514.5 545.5 570.3 595.8 624.5 653.1 688 710.5 746.1 767.8 798 831.3 853.8 884 917.3 946 968.4 997.1 1025.7 1054.1 1084.7 1114.8" y="449.8" font-size="56" xml:space="preserve">air supply velocity14<tspan textLength="28.7" lengthAdjust="spacingAndGlyphs">m</tspan><tspan textLength="24.6" lengthAdjust="spacingAndGlyphs">/</tspan>s</text>
<line x1="307.5" y1="493" x2="424" y2="493" stroke="#37AD6B" stroke-width="2"/><polygon points="345.6,481.3 386,481.3 365.8,516.3" fill="#37AD6B"/>
<text x="454.1 487.4 514.5 545.5 570.3 595.8 624.5 653.1 688 710.5 746.1 767.8 798 831.3 853.8 884 917.3 946 968.4 997.1 1025.7 1054.1 1084.7 1114.8" y="512.8" font-size="56" xml:space="preserve">air supply velocity16<tspan textLength="28.7" lengthAdjust="spacingAndGlyphs">m</tspan><tspan textLength="24.6" lengthAdjust="spacingAndGlyphs">/</tspan>s</text>
<line x1="307.5" y1="556" x2="424" y2="556" stroke="#B177DE" stroke-width="2"/><polygon points="344.8,556 365.8,535 386.8,556 365.8,577" fill="#B177DE" stroke="#B177DE" stroke-width="1" stroke-linejoin="round"/>
<text x="454.1 487.4 514.5 545.5 570.3 595.8 624.5 653.1 688 710.5 746.1 767.8 798 831.3 853.8 884 917.3 946 968.4 997.1 1025.7 1054.1 1084.7 1114.8" y="575.8" font-size="56" xml:space="preserve">air supply velocity18<tspan textLength="28.7" lengthAdjust="spacingAndGlyphs">m</tspan><tspan textLength="24.6" lengthAdjust="spacingAndGlyphs">/</tspan>s</text>
</svg>
</body></html>
